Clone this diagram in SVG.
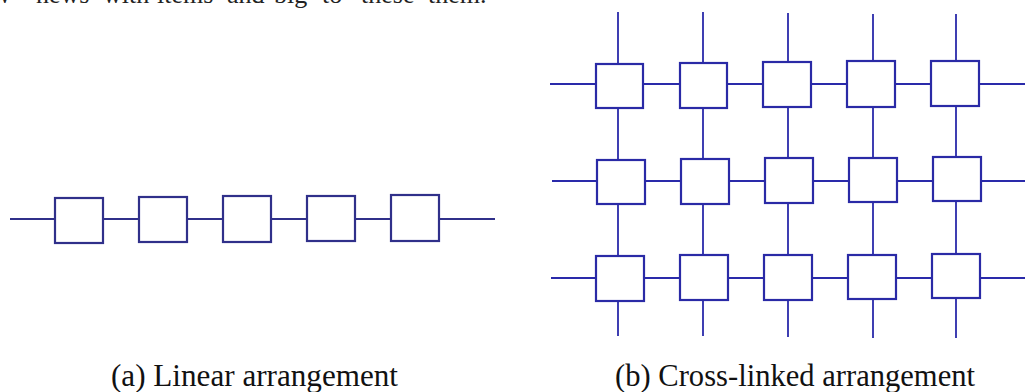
<svg xmlns="http://www.w3.org/2000/svg" width="1025" height="392" viewBox="0 0 1025 392">
<style>
.bg{fill:#ffffff}
.la{stroke:#30308a;stroke-width:1.8;fill:none}
.lb{stroke:#2a2aaa;stroke-width:1.8;fill:none}
.na{fill:#ffffff;stroke:#30308a;stroke-width:2.2}
.nb{fill:#ffffff;stroke:#2a2aa6;stroke-width:2.2}
.cap{font-family:'Liberation Serif','Times New Roman',serif;font-size:31px;fill:#111111}
.top{font-family:'Liberation Serif','Times New Roman',serif;font-size:26px;fill:#222222}
</style>
<rect class="bg" x="0" y="0" width="1025" height="392"/>
<g id="top-text">
<text class="top" x="-8" y="3">w</text>
<text class="top" x="36" y="3">news</text>
<text class="top" x="103" y="3">with</text>
<text class="top" x="157" y="3">items</text>
<text class="top" x="227" y="3">and</text>
<text class="top" x="274" y="3">big</text>
<text class="top" x="322" y="3">to</text>
<text class="top" x="361" y="3">these</text>
<text class="top" x="428" y="3">them.</text>
</g>
<g id="connectors">
<line class="la" x1="10" y1="219" x2="495" y2="219"/>
<line class="lb" x1="550" y1="84" x2="1025" y2="84"/>
<line class="lb" x1="552" y1="181" x2="1025" y2="181"/>
<line class="lb" x1="551" y1="278" x2="1025" y2="278"/>
<line class="lb" x1="618" y1="12" x2="618" y2="336"/>
<line class="lb" x1="703" y1="12" x2="703" y2="336"/>
<line class="lb" x1="788" y1="13" x2="788" y2="337"/>
<line class="lb" x1="873" y1="14" x2="873" y2="338"/>
<line class="lb" x1="956" y1="14" x2="956" y2="338"/>
</g>
<g id="a1"><rect class="na" x="55" y="198" width="48" height="45"/></g>
<g id="a2"><rect class="na" x="139" y="197" width="48" height="45"/></g>
<g id="a3"><rect class="na" x="223" y="196" width="48" height="46"/></g>
<g id="a4"><rect class="na" x="307" y="196" width="48" height="45"/></g>
<g id="a5"><rect class="na" x="391" y="195" width="48" height="46"/></g>
<g id="b11"><rect class="nb" x="596" y="64" width="47" height="44"/></g>
<g id="b12"><rect class="nb" x="680" y="63" width="47" height="45"/></g>
<g id="b13"><rect class="nb" x="763" y="62" width="48" height="45"/></g>
<g id="b14"><rect class="nb" x="847" y="61" width="48" height="46"/></g>
<g id="b15"><rect class="nb" x="931" y="61" width="48" height="45"/></g>
<g id="b21"><rect class="nb" x="597" y="160" width="48" height="44"/></g>
<g id="b22"><rect class="nb" x="681" y="159" width="48" height="45"/></g>
<g id="b23"><rect class="nb" x="765" y="158" width="48" height="45"/></g>
<g id="b24"><rect class="nb" x="849" y="158" width="48" height="44"/></g>
<g id="b25"><rect class="nb" x="933" y="157" width="48" height="44"/></g>
<g id="b31"><rect class="nb" x="596" y="256" width="48" height="45"/></g>
<g id="b32"><rect class="nb" x="680" y="255" width="48" height="45"/></g>
<g id="b33"><rect class="nb" x="764" y="255" width="48" height="45"/></g>
<g id="b34"><rect class="nb" x="848" y="255" width="48" height="44"/></g>
<g id="b35"><rect class="nb" x="932" y="254" width="48" height="44"/></g>
<text class="cap" x="111" y="386" textLength="287" lengthAdjust="spacingAndGlyphs">(a) Linear arrangement</text>
<text class="cap" x="615" y="386" textLength="360" lengthAdjust="spacingAndGlyphs">(b) Cross-linked arrangement</text>
</svg>
